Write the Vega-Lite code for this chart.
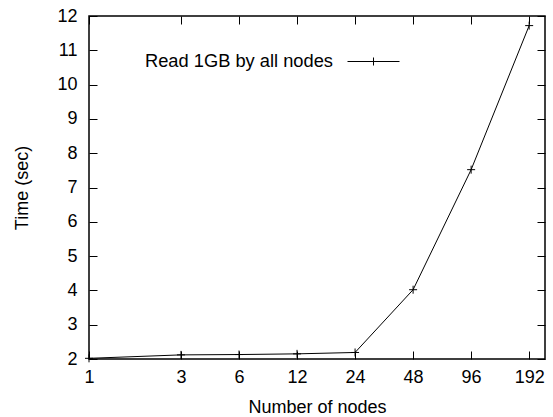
{
  "$schema": "https://vega.github.io/schema/vega-lite/v6.json",
  "width": 456,
  "height": 343,
  "autosize": {"type": "none"},
  "padding": {"left": 89, "top": 16, "right": 8, "bottom": 58},
  "background": "white",
  "config": {
    "view": {"stroke": "black", "strokeWidth": 1.5},
    "font": "Liberation Sans",
    "axis": {
      "grid": false,
      "domain": false,
      "tickColor": "black",
      "tickSize": -8,
      "tickWidth": 1,
      "labelFont": "Liberation Sans",
      "labelFontSize": 18,
      "labelColor": "black",
      "titleFont": "Liberation Sans",
      "titleFontSize": 18,
      "titleFontWeight": "normal",
      "titleColor": "black"
    }
  },
  "data": {
    "values": [
      {"nodes": 1, "time": 2.02, "series": "Read 1GB by all nodes"},
      {"nodes": 3, "time": 2.12, "series": "Read 1GB by all nodes"},
      {"nodes": 6, "time": 2.13, "series": "Read 1GB by all nodes"},
      {"nodes": 12, "time": 2.15, "series": "Read 1GB by all nodes"},
      {"nodes": 24, "time": 2.19, "series": "Read 1GB by all nodes"},
      {"nodes": 48, "time": 4.02, "series": "Read 1GB by all nodes"},
      {"nodes": 96, "time": 7.52, "series": "Read 1GB by all nodes"},
      {"nodes": 192, "time": 11.72, "series": "Read 1GB by all nodes"}
    ]
  },
  "layer": [
    {
      "mark": {"type": "line", "color": "black", "strokeWidth": 1},
      "encoding": {
        "x": {
          "field": "nodes", "type": "quantitative",
          "scale": {"type": "log", "base": 2, "domain": [1, 232], "nice": false},
          "axis": {"orient": "bottom", "values": [1, 3, 6, 12, 24, 48, 96, 192], "labelPadding": 17, "title": "Number of nodes", "titlePadding": 12, "labelFlush": false}
        },
        "y": {
          "field": "time", "type": "quantitative",
          "scale": {"domain": [2, 12], "nice": false, "zero": false},
          "axis": {"orient": "left", "values": [2, 3, 4, 5, 6, 7, 8, 9, 10, 11, 12], "labelPadding": 20, "title": "Time (sec)", "titlePadding": 25, "labelFlush": false}
        },
        "color": {
          "field": "series", "type": "nominal",
          "scale": {"range": ["black"]},
          "legend": {
            "orient": "none",
            "legendX": 56,
            "legendY": 41,
            "padding": 0,
            "title": "Read 1GB by all nodes",
            "titleOrient": "left",
            "titleFont": "Liberation Sans",
            "titleFontSize": 18.3,
            "titleFontWeight": "normal",
            "titleColor": "black",
            "titleLimit": 500,
            "titlePadding": 35,
            "titleBaseline": "middle",
            "labelExpr": "''",
            "labelFontSize": 1,
            "symbolType": "M-6.5,0H6.5M0,-1V1",
            "symbolSize": 64,
            "symbolStrokeWidth": 1,
            "symbolStrokeColor": "black",
            "symbolFillColor": "transparent"
          }
        }
      }
    },
    {
      "mark": {"type": "point", "shape": "M-1,0H1M0,-1V1", "size": 64, "filled": false, "color": "black", "strokeWidth": 1, "opacity": 1},
      "encoding": {
        "x": {"field": "nodes", "type": "quantitative", "axis": {"orient": "top", "values": [1, 3, 6, 12, 24, 48, 96, 192], "labels": false, "title": null}},
        "y": {"field": "time", "type": "quantitative", "axis": {"orient": "right", "values": [2, 3, 4, 5, 6, 7, 8, 9, 10, 11, 12], "labels": false, "title": null}},
        "color": {"field": "series", "type": "nominal"}
      }
    }
  ]
}
